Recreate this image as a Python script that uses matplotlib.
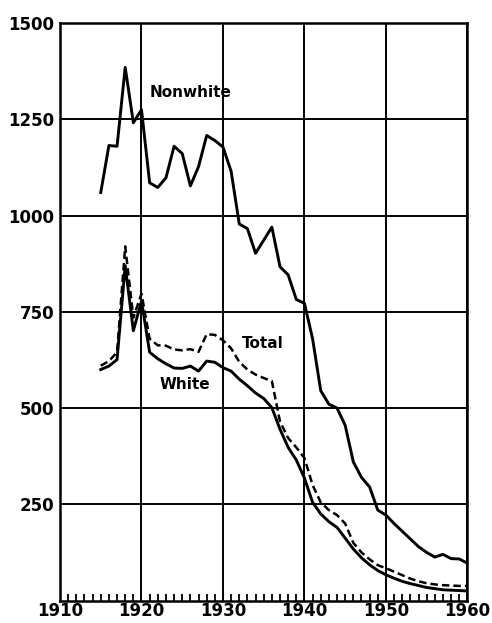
import matplotlib.pyplot as plt

years = list(range(1915, 1961))

nonwhite = [1060, 1182, 1180, 1385, 1241, 1275, 1085, 1073, 1098, 1180,
            1161, 1077, 1127, 1208, 1195, 1178, 1115, 978, 966, 902,
            936, 970, 867, 846, 782, 772, 680, 545, 510, 500,
            455, 360, 320, 295, 235, 222, 200, 180, 160, 140,
            125, 113, 120, 109, 108, 97]

total = [610, 622, 645, 920, 735, 797, 680, 663, 662, 652,
         650, 653, 646, 692, 690, 676, 655, 620, 600, 587,
         578, 570, 465, 422, 398, 370, 300, 255, 235, 222,
         200, 150, 125, 107, 92, 84, 75, 66, 57, 50,
         45, 42, 40, 39, 38, 38]

white = [600, 609, 626, 870, 701, 778, 645, 628, 615, 604,
         603, 609, 596, 622, 619, 605, 596, 575, 558, 539,
         525, 501, 445, 398, 365, 318, 255, 225, 205, 190,
         162, 134, 111, 93, 78, 67, 58, 50, 44, 39,
         34, 31, 28, 27, 26, 25]

x_ticks = [1910, 1920, 1930, 1940, 1950, 1960]
y_ticks = [250, 500, 750, 1000, 1250, 1500]

fig = plt.figure(figsize=(4.92, 6.23), dpi=100)
ax = fig.add_axes([0.122, 0.036, 0.828, 0.927])

ax.plot(years, nonwhite, color='black', lw=2.1)
ax.plot(years, white, color='black', lw=2.1)
ax.plot(years, total, color='black', lw=1.8, dashes=(3, 1.6))

ax.set_xlim(1910, 1960)
ax.set_ylim(0, 1500)
ax.set_xticks(x_ticks)
ax.set_yticks(y_ticks)
ax.set_xticks(range(1910, 1961), minor=True)
ax.grid(True, which='major', color='black', lw=1.4)
ax.tick_params(axis='both', which='major', length=0, labelsize=12)
ax.tick_params(axis='y', which='major', pad=4)
ax.tick_params(axis='x', which='major', pad=1)
ax.tick_params(axis='x', which='minor', direction='in', length=5, width=1.3)
for lab in ax.get_xticklabels() + ax.get_yticklabels():
    lab.set_fontweight('bold')
for s in ax.spines.values():
    s.set_linewidth(1.8)

ax.text(1921.0, 1308, 'Nonwhite', fontsize=11, fontweight='bold')
ax.text(1932.3, 668, 'Total', fontsize=11, fontweight='bold', va='center')
ax.text(1922.2, 562, 'White', fontsize=11, fontweight='bold', va='center')

plt.savefig('out.png', dpi=100)
